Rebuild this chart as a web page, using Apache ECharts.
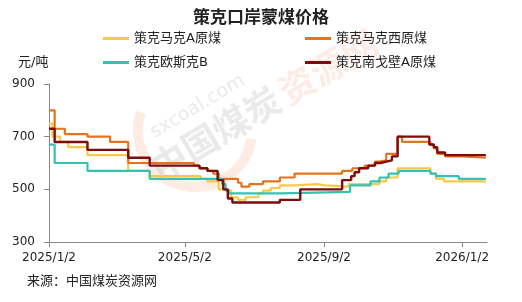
<!DOCTYPE html>
<html><head><meta charset="utf-8">
<script src="https://cdn.jsdelivr.net/npm/echarts@6/dist/echarts.min.js"></script>
<style>html,body{margin:0;padding:0;background:#fff}#c{width:522px;height:302px}</style>
</head><body><div id="c"></div>
<script>
const seriesNames = ['策克马克A原煤', '策克马克西原煤', '策克欧斯克B', '策克南戈壁A原煤'];
const tickLabels = ['2025/1/2', '2025/5/2', '2025/9/2', '2026/1/2'];
const yTicks = [300, 500, 700, 900];

// [start date, price] — each price holds until the next date
const mkA = [['2025-01-02',750],['2025-01-05',700],['2025-01-12',680],['2025-01-19',660],['2025-02-05',630],['2025-03-13',570],['2025-04-01',550],['2025-05-16',540],['2025-05-22',530],['2025-06-01',500],['2025-06-05',495],['2025-06-12',470],['2025-06-18',460],['2025-06-25',470],['2025-07-06',485],['2025-07-10',495],['2025-07-17',505],['2025-07-25',515],['2025-08-07',520],['2025-08-27',515],['2025-09-03',510],['2025-09-24',520],['2025-10-21',530],['2025-10-27',545],['2025-11-06',580],['2025-12-05',560],['2025-12-10',540],['2025-12-17',530],['2026-01-23',530]];
const mkWest = [['2025-01-02',800],['2025-01-07',730],['2025-01-16',710],['2025-02-05',700],['2025-02-25',680],['2025-03-13',600],['2025-05-10',590],['2025-05-15',580],['2025-05-22',570],['2025-05-27',560],['2025-06-01',540],['2025-06-18',525],['2025-06-21',510],['2025-06-28',520],['2025-07-10',530],['2025-07-25',545],['2025-08-07',560],['2025-09-18',570],['2025-09-27',580],['2025-10-08',590],['2025-10-17',605],['2025-10-21',610],['2025-10-27',635],['2025-11-06',700],['2025-11-10',680],['2025-12-05',670],['2025-12-08',655],['2025-12-11',635],['2025-12-18',625],['2026-01-02',620],['2026-01-23',620]];
const osB = [['2025-01-02',670],['2025-01-07',600],['2025-02-05',570],['2025-04-01',540],['2025-06-04',520],['2025-06-07',495],['2025-06-10',485],['2025-07-25',490],['2025-09-25',515],['2025-10-13',530],['2025-10-21',545],['2025-10-29',560],['2025-11-07',570],['2025-12-05',560],['2025-12-10',550],['2025-12-30',540],['2026-01-23',540]];
const ngbA = [['2025-01-02',730],['2025-01-07',680],['2025-02-05',650],['2025-03-13',620],['2025-04-01',590],['2025-05-15',580],['2025-05-22',570],['2025-05-31',535],['2025-06-05',500],['2025-06-09',465],['2025-06-13',450],['2025-07-25',460],['2025-08-12',500],['2025-09-18',535],['2025-09-26',550],['2025-09-29',565],['2025-10-03',580],['2025-10-11',590],['2025-10-17',600],['2025-10-22',605],['2025-10-27',610],['2025-11-01',625],['2025-11-06',700],['2025-12-04',670],['2025-12-08',660],['2025-12-11',640],['2025-12-18',630],['2026-01-23',630]];

const colors = ['#F8C944', '#E5731E', '#36C2B3', '#7E0C0C'];
const dataSets = [mkA, mkWest, osB, ngbA];

function dateToTime(s) { const p = s.split(/[-\/]/).map(Number); return +new Date(p[0], p[1] - 1, p[2]); }
const tickTimes = tickLabels.map(dateToTime);
const axisEnd = dateToTime('2026-01-24');

const FONT = '"DejaVu Sans","Noto Sans CJK SC",sans-serif';
const chart = echarts.init(document.getElementById('c'), null, { renderer: 'canvas' });

const legendPos = [[103, 32], [305, 32], [103, 56], [305, 56]];
const legends = seriesNames.map((n, i) => ({
  data: [n], left: legendPos[i][0], top: legendPos[i][1], padding: 0,
  icon: 'rect', itemWidth: 26, itemHeight: 3, selectedMode: false,
  textStyle: { fontSize: 13, color: '#222', fontFamily: FONT }
}));

const ROT = 0.54;
chart.setOption({
  animation: false,
  backgroundColor: '#fff',
  title: { text: '策克口岸蒙煤价格', left: 'center', top: 10, padding: 0,
    textStyle: { fontSize: 17, fontWeight: 'bold', color: '#222', fontFamily: FONT } },
  legend: legends,
  grid: { left: 49, right: 35, top: 84, bottom: 60, containLabel: false, outerBoundsMode: 'none' },
  xAxis: {
    type: 'value', min: tickTimes[0], max: axisEnd, scale: true,
    axisLine: { show: true, onZero: false, lineStyle: { color: '#888', width: 1 } },
    axisTick: { show: true, length: 5, customValues: tickTimes, lineStyle: { color: '#888' } },
    axisLabel: { customValues: tickTimes, margin: 10, fontSize: 12, color: '#222', fontFamily: FONT,
      formatter: v => { const k = tickTimes.indexOf(v); return k >= 0 ? tickLabels[k] : ''; } },
    splitLine: { show: false }
  },
  yAxis: {
    type: 'value', min: yTicks[0], max: yTicks[yTicks.length - 1], interval: 200,
    axisLine: { show: true, lineStyle: { color: '#888', width: 1 } },
    axisTick: { show: true, length: 5, lineStyle: { color: '#888' } },
    axisLabel: { margin: 14, fontSize: 12, color: '#222', fontFamily: FONT },
    splitLine: { show: false }
  },
  graphic: [
    { type: 'arc', shape: { cx: 195, cy: 130, r: 57, startAngle: Math.PI * 0.05, endAngle: Math.PI * 1.1 },
      style: { stroke: 'rgba(242,160,120,0.2)', lineWidth: 10, fill: null }, z: 0, silent: true },
    { type: 'text', x: 152, y: 134, rotation: ROT, z: 0, silent: true,
      style: { text: 'sxcoal.com', fontSize: 19, fill: 'rgba(150,150,150,0.2)', fontFamily: FONT, verticalAlign: 'middle' } },
    { type: 'text', x: 156, y: 174, rotation: ROT, z: 0, silent: true,
      style: { text: '中国煤炭', fontSize: 36, fontWeight: 'bold', fill: 'rgba(140,140,140,0.18)', fontFamily: FONT, verticalAlign: 'middle' } },
    { type: 'text', x: 284, y: 98, rotation: ROT, z: 0, silent: true,
      style: { text: '资源网', fontSize: 36, fontWeight: 'bold', fill: 'rgba(240,120,80,0.15)', fontFamily: FONT, verticalAlign: 'middle' } },
    { type: 'text', left: 18, top: 56, z: 10,
      style: { text: '元/吨', fontSize: 13, fill: '#222', fontFamily: FONT } },
    { type: 'text', left: 27, top: 275, z: 10,
      style: { text: '来源：中国煤炭资源网', fontSize: 13, fill: '#222', fontFamily: FONT } }
  ],
  series: seriesNames.map((n, i) => ({
    name: n, type: 'line', step: 'end', showSymbol: false, symbol: 'none',
    data: dataSets[i].map(d => [dateToTime(d[0]), d[1]]), color: colors[i],
    lineStyle: { width: i === 3 ? 2.4 : 2.2, color: colors[i] },
    z: 2 + i
  }))
});
</script></body></html>
